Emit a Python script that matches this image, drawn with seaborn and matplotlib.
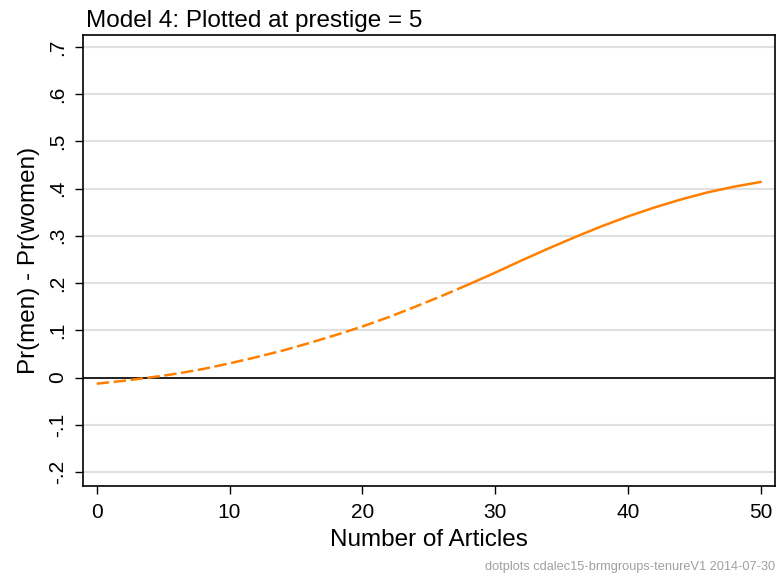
import pandas as pd
import seaborn as sns
import matplotlib.pyplot as plt

# Values
articles = [0, 2, 4, 6, 8, 10, 12, 14, 16, 18, 20, 22, 24, 26, 28,
            30, 32, 34, 36, 38, 40, 42, 44, 46, 48, 50]
diff = [-0.013, -0.007, 0.000, 0.008, 0.018, 0.030, 0.043, 0.057, 0.073,
        0.090, 0.108, 0.128, 0.150, 0.173, 0.197, 0.222, 0.248, 0.273,
        0.297, 0.320, 0.341, 0.360, 0.377, 0.392, 0.404, 0.414]
sig_from = 28  # dashed before, solid after

yticks = [-0.2, -0.1, 0, 0.1, 0.2, 0.3, 0.4, 0.5, 0.6, 0.7]
ytick_labels = ['-.2', '-.1', '0', '.1', '.2', '.3', '.4', '.5', '.6', '.7']
xticks = [0, 10, 20, 30, 40, 50]

sns.set_style('white')
plt.rcParams['font.family'] = ['Liberation Sans', 'DejaVu Sans']
plt.rcParams['text.color'] = 'black'
plt.rcParams['axes.labelcolor'] = 'black'
plt.rcParams['xtick.color'] = 'black'
plt.rcParams['ytick.color'] = 'black'

df = pd.DataFrame({'articles': articles, 'diff': diff})
ns = df[df['articles'] <= sig_from]
sig = df[df['articles'] >= sig_from]

fig, ax = plt.subplots(figsize=(7.81, 5.74), dpi=100)
fig.subplots_adjust(left=0.106, right=0.992, top=0.939, bottom=0.153)

for y in yticks:
    ax.axhline(y, color='#e0e0e0', lw=1.5, zorder=0)
ax.axhline(0, color='black', lw=1.2, zorder=1)

color = '#ff8000'
sns.lineplot(data=ns, x='articles', y='diff', ax=ax, color=color, lw=1.8,
             linestyle=(0, (5, 1.8)))
sns.lineplot(data=sig, x='articles', y='diff', ax=ax, color=color, lw=1.8)

ax.set_xlim(-1.05, 51.05)
ax.set_ylim(-0.23, 0.725)
ax.set_xticks(xticks)
ax.set_yticks(yticks)
ax.set_yticklabels(ytick_labels, rotation=90, va='center')
ax.tick_params(axis='both', labelsize=15, length=6, width=1,
               direction='out', left=True, bottom=True)
ax.tick_params(axis='y', pad=5)
ax.tick_params(axis='x', pad=6)

for s in ax.spines.values():
    s.set_color('black')
    s.set_linewidth(1.2)

ax.set_xlabel('Number of Articles', fontsize=17.5, labelpad=5)
ax.set_ylabel('Pr(men) - Pr(women)', fontsize=17.5, labelpad=6)
ax.set_title('Model 4: Plotted at prestige = 5', fontsize=17.5, loc='left',
             pad=6, x=0.005)

fig.text(0.992, 0.002, 'dotplots cdalec15-brmgroups-tenureV1 2014-07-30',
         ha='right', va='bottom', fontsize=9.2, color='#a0a0a0')

fig.savefig('out.png', dpi=100)
